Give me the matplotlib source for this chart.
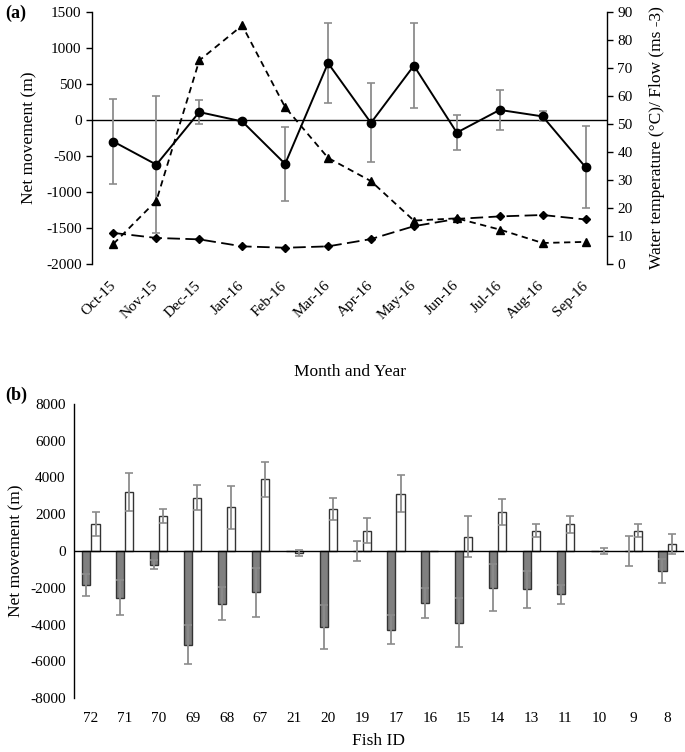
import matplotlib
matplotlib.use("Agg")
import matplotlib.pyplot as plt
import numpy as np

plt.rcParams['font.family'] = ['Liberation Serif', 'DejaVu Serif']
plt.rcParams['axes.unicode_minus'] = False

# ---- Panel (a) data ----
months = ['Oct-15', 'Nov-15', 'Dec-15', 'Jan-16', 'Feb-16', 'Mar-16',
          'Apr-16', 'May-16', 'Jun-16', 'Jul-16', 'Aug-16', 'Sep-16']
net_move = [-300, -620, 110, -20, -610, 790, -40, 755, -175, 140, 50, -655]
net_err = [590, 950, 170, 30, 515, 555, 550, 590, 240, 280, 70, 565]
flow = [7.2, 22.6, 72.7, 85.2, 56.0, 37.9, 29.6, 15.5, 16.3, 12.3, 7.5, 7.9]
temperature = [11.1, 9.3, 8.8, 6.3, 5.8, 6.3, 8.9, 13.5, 16.1, 17.0, 17.5, 15.9]
left_ticks = [-2000, -1500, -1000, -500, 0, 500, 1000, 1500]
right_ticks = [0, 10, 20, 30, 40, 50, 60, 70, 80, 90]

# ---- Panel (b) data ----
fish_ids = ['72', '71', '70', '69', '68', '67', '21', '20', '19', '17',
            '16', '15', '14', '13', '11', '10', '9', '8']
neg_move = [-1870, -2540, -750, -5100, -2870, -2250, 0, -4140, 0, -4280,
            -2850, -3900, -2000, -2090, -2360, 0, 0, -1090]
neg_err = [600, 940, 250, 1050, 900, 1320, 0, 1180, 560, 800,
           815, 1320, 1270, 1020, 510, 0, 830, 650]
pos_move = [1470, 3210, 1920, 2900, 2380, 3900, -120, 2300, 1100, 3120,
            0, 780, 2120, 1100, 1450, 0, 1100, 380]
pos_err = [630, 1060, 380, 690, 1170, 960, 160, 600, 690, 1020,
           0, 1100, 690, 360, 450, 170, 360, 560]
b_ticks = [-8000, -6000, -4000, -2000, 0, 2000, 4000, 6000, 8000]

W, H = 685, 752
fig = plt.figure(figsize=(W / 100, H / 100), dpi=100)

# ================= Panel (a) =================
ax1 = fig.add_axes([92 / W, 1 - 264 / H, 515 / W, 252 / H])
ax2 = ax1.twinx()
x = np.arange(len(months))

ax1.axhline(0, color='black', lw=1.0, zorder=1)
ax1.errorbar(x, net_move, yerr=net_err, fmt='none', ecolor='#8c8c8c',
             elinewidth=1.3, capsize=3, capthick=1.2, zorder=2)
ax1.plot(x, net_move, color='black', lw=1.4, marker='o', ms=6, zorder=3)

ax2.plot(x, flow, color='black', lw=1.3, ls=(0, (3.5, 2.5)), marker='^', ms=5.5)
ax2.plot(x, temperature, color='black', lw=1.3, ls=(0, (7, 3)), marker='D', ms=4.5)

ax1.set_xlim(-0.5, len(months) - 0.5)
ax1.set_ylim(-2000, 1500)
ax2.set_ylim(0, 90)
ax1.set_yticks(left_ticks)
ax2.set_yticks(right_ticks)
ax1.set_xticks(x)
ax1.set_xticklabels(months, rotation=45, ha='right', va='center',
                    rotation_mode='anchor', fontsize=11)
ax1.tick_params(axis='x', length=0, pad=14)
ax1.tick_params(axis='y', labelsize=11, length=4, width=1, direction='out')
ax2.tick_params(axis='y', labelsize=11, length=4, width=1, direction='out')

for a in (ax1, ax2):
    a.spines['top'].set_visible(False)
    a.spines['bottom'].set_visible(False)
ax1.spines['right'].set_visible(False)
ax2.spines['left'].set_visible(False)
ax2.spines['right'].set_linewidth(1.0)
ax1.spines['left'].set_linewidth(1.0)
ax1.patch.set_visible(False)

ax1.set_ylabel('Net movement (m)', fontsize=12.5, labelpad=6)
ax2.set_ylabel('Water temperature (°C)/ Flow (ms -3)', fontsize=12.5, labelpad=12)
ax1.set_xlabel('Month and Year', fontsize=12.5, labelpad=30)

fig.text(5 / W, 1 - 13 / H, '(a)', fontsize=13, fontweight='bold', va='center', ha='left')

# ================= Panel (b) =================
ax3 = fig.add_axes([74 / W, 1 - 698 / H, 610 / W, 294 / H])
xb = np.arange(len(fish_ids))
bw = 0.24
off = 0.135

ax3.bar(xb - off, neg_move, width=bw, color='#808080', edgecolor='#333333', lw=1.0, zorder=2)
ax3.bar(xb + off, pos_move, width=bw, color='white', edgecolor='#333333', lw=1.0, zorder=2)
ax3.axhline(0, color='black', lw=1.0, zorder=3)

neg_arr = np.array(neg_move, dtype=float)
pos_arr = np.array(pos_move, dtype=float)
ne = np.array(neg_err, dtype=float)
pe = np.array(pos_err, dtype=float)
mn = ne > 0
mp = pe > 0
ax3.errorbar(xb[mn] - off, neg_arr[mn], yerr=ne[mn], fmt='none', ecolor='#8c8c8c',
             elinewidth=1.3, capsize=3, capthick=1.2, zorder=4)
ax3.errorbar(xb[mp] + off, pos_arr[mp], yerr=pe[mp], fmt='none', ecolor='#8c8c8c',
             elinewidth=1.3, capsize=3, capthick=1.2, zorder=4)

ax3.set_xlim(-0.5, len(fish_ids) - 0.5)
ax3.set_ylim(-8000, 8000)
ax3.set_yticks(b_ticks)
ax3.set_xticks(xb)
ax3.set_xticklabels(fish_ids, fontsize=11)
ax3.tick_params(axis='x', length=0, pad=10)
ax3.tick_params(axis='y', length=0, labelsize=11, pad=6)
for s in ('top', 'right', 'bottom'):
    ax3.spines[s].set_visible(False)
ax3.spines['left'].set_linewidth(1.0)
ax3.set_ylabel('Net movement (m)', fontsize=12.5, labelpad=4)
ax3.set_xlabel('Fish ID', fontsize=12.5, labelpad=6)

fig.text(5 / W, 1 - 395 / H, '(b)', fontsize=13, fontweight='bold', va='center', ha='left')

fig.savefig('out.png', dpi=100)
